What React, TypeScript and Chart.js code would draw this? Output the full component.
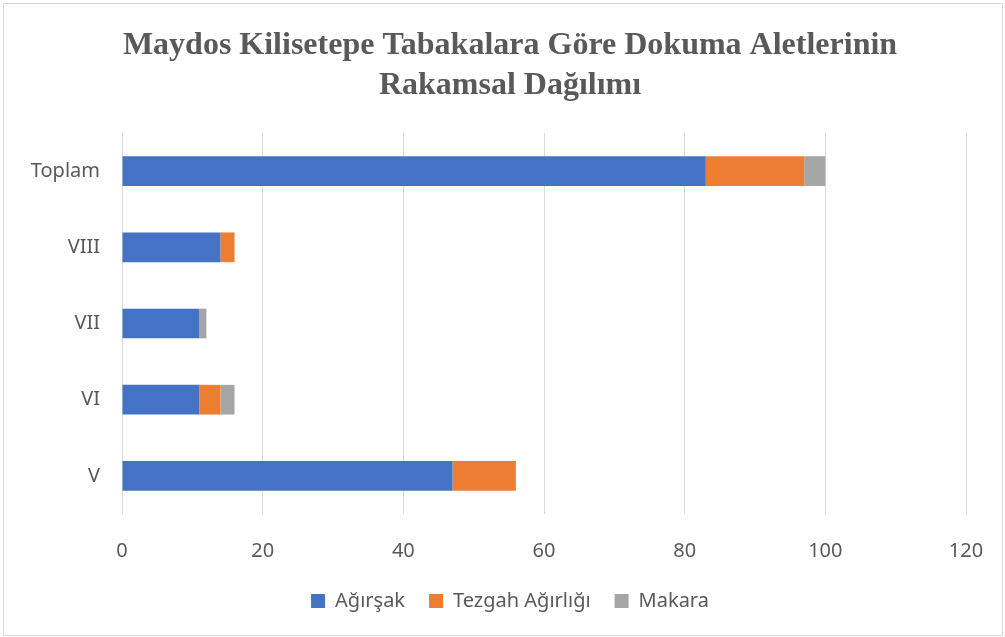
import React, { useEffect, useRef } from "react";
import { Chart, registerables } from "chart.js";

Chart.register(...registerables);

const categories = ["Toplam", "VIII", "VII", "VI", "V"];
const agirsak = [83, 14, 11, 11, 47];
const tezgah = [14, 2, 0, 3, 9];
const makara = [3, 0, 1, 2, 0];
const titleLines = ["Maydos Kilisetepe Tabakalara Göre Dokuma Aletlerinin", "Rakamsal Dağılımı"];

const centerShift = {
  id: "centerShift",
  beforeDraw(chart: any) {
    if (chart.titleBlock) chart.titleBlock.left = 54;
    if (chart.legend) chart.legend.left = 54;
  },
};

export default function App() {
  const ref = useRef<HTMLCanvasElement>(null);
  useEffect(() => {
    document.body.style.margin = "0";
    const ctx = ref.current!;
    const chart = new Chart(ctx, {
      type: "bar",
      data: {
        labels: categories,
        datasets: [
          { label: "Ağırşak", data: agirsak, backgroundColor: "#4472C4" },
          { label: "Tezgah Ağırlığı", data: tezgah, backgroundColor: "#ED7D31" },
          { label: "Makara", data: makara, backgroundColor: "#A5A5A5" },
        ],
      },
      plugins: [centerShift],
      options: {
        indexAxis: "y",
        animation: false,
        responsive: false,
        maintainAspectRatio: false,
        layout: { padding: { top: 6, bottom: 16, left: 10, right: 39 } },
        datasets: { bar: { barPercentage: 0.39, categoryPercentage: 1 } } as any,
        scales: {
          x: {
            stacked: true,
            min: 0,
            max: 120,
            ticks: { stepSize: 20, color: "#595959", font: { family: "Noto Sans", size: 20 }, padding: 21 },
            grid: { color: "#d9d9d9", drawTicks: true, tickLength: 4, tickColor: "rgba(0,0,0,0)" },
            border: { display: false },
            afterFit: (scale: any) => { scale.height = 53; },
          },
          y: {
            stacked: true,
            ticks: { color: "#595959", font: { family: "Noto Sans", size: 20 }, padding: 22 },
            grid: { display: false, drawTicks: false },
            border: { display: false },
            afterFit: (scale: any) => { scale.width = 112; },
          },
        },
        plugins: {
          title: {
            display: true,
            text: titleLines,
            color: "#595959",
            font: { family: "Liberation Serif", size: 32, weight: "bold", lineHeight: 1.25 },
            padding: { top: 20, bottom: 27 },
          },
          legend: {
            position: "bottom",
            labels: {
              color: "#595959",
              font: { family: "Noto Sans", size: 20 },
              boxWidth: 14,
              boxHeight: 14,
              padding: 24,
            },
          },
          tooltip: { enabled: false },
        },
      },
    });
    return () => chart.destroy();
  }, []);
  return (
    <div style={{ position: "absolute", left: 0, top: 0, width: 1005, height: 637 }}>
      <canvas ref={ref} width={1005} height={637} style={{ display: "block" }} />
      <div style={{ position: "absolute", left: 3, top: 3, width: 998, height: 631, border: "1px solid #d9d9d9", pointerEvents: "none" }} />
    </div>
  );
}
